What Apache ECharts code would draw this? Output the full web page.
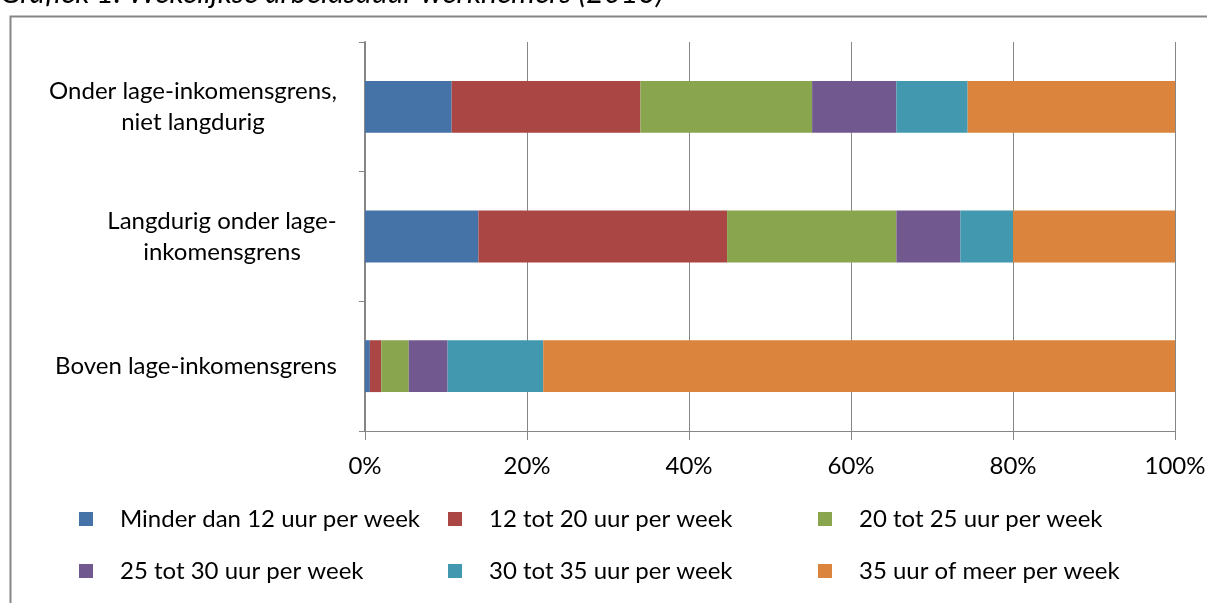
<!DOCTYPE html>
<html>
<head>
<meta charset="utf-8">
<script src="https://cdn.jsdelivr.net/npm/echarts@6/dist/echarts.min.js"></script>
<style>
html,body{margin:0;padding:0;background:#fff;}
#chart{width:1207px;height:603px;}
</style>
</head>
<body>
<div id="chart"></div>
<script>
const categories = ['Boven lage-inkomensgrens', 'Langdurig onder lage-inkomensgrens', 'Onder lage-inkomensgrens, niet langdurig'];
const seriesNames = ['Minder dan 12 uur per week', '12 tot 20 uur per week', '20 tot 25 uur per week', '25 tot 30 uur per week', '30 tot 35 uur per week', '35 uur of meer per week'];
const minder12 = [0.6, 14.0, 10.7];
const tot20 = [1.4, 30.7, 23.3];
const tot25 = [3.4, 20.9, 21.2];
const tot30 = [4.8, 7.9, 10.4];
const tot35 = [11.8, 6.5, 8.8];
const meer35 = [78.0, 20.0, 25.6];
const xTicks = [0, 20, 40, 60, 80, 100];
const titleText = 'Grafiek 1. Wekelijkse arbeidsduur werknemers (2013)';

const values = [minder12, tot20, tot25, tot30, tot35, meer35];
const colors = ['#4572A7', '#AA4643', '#89A54E', '#71588F', '#4198AF', '#DB843D'];
const font = 'Lato, "Open Sans", sans-serif';
const fs = 24;

const labelLines = {
  'Boven lage-inkomensgrens': ['Boven lage-inkomensgrens'],
  'Langdurig onder lage-inkomensgrens': ['Langdurig onder lage-', 'inkomensgrens'],
  'Onder lage-inkomensgrens, niet langdurig': ['Onder lage-inkomensgrens,', 'niet langdurig']
};

const ctx = document.createElement('canvas').getContext('2d');
ctx.font = fs + 'px ' + font;
const rich = {};
categories.forEach((c, i) => {
  const w = Math.max(...labelLines[c].map(l => ctx.measureText(l).width));
  rich['c' + i] = { fontSize: fs, fontFamily: font, color: '#000', lineHeight: 31, align: 'center', width: Math.ceil(w) + 2 };
});

const chart = echarts.init(document.getElementById('chart'));
chart.setOption({
  animation: false,
  backgroundColor: '#fff',
  textStyle: { fontFamily: font },
  graphic: [
    { type: 'rect', left: 8, top: 14, shape: { x: 0, y: 0, width: 1215, height: 610 },
      style: { fill: 'none', stroke: '#868686', lineWidth: 2 }, z: 0 },
    { type: 'text', left: 0, top: -22,
      style: { text: titleText, font: 'italic 30px ' + font, fill: '#000' } }
  ],
  grid: { left: 365, right: 32, top: 42, bottom: 172, containLabel: false, outerBoundsMode: 'none' },
  xAxis: {
    type: 'value', min: xTicks[0], max: xTicks[xTicks.length - 1], interval: 20,
    axisLine: { show: true, lineStyle: { color: '#868686', width: 1 } },
    axisTick: { show: true, length: 9, lineStyle: { color: '#868686' } },
    splitLine: { show: true, lineStyle: { color: '#868686', width: 1 } },
    axisLabel: { formatter: '{value}%', color: '#000', fontSize: fs, fontFamily: font, margin: 23 }
  },
  yAxis: {
    type: 'category', data: categories,
    axisLine: { show: true, lineStyle: { color: '#868686', width: 2 } },
    axisTick: { show: true, length: 6, lineStyle: { color: '#868686' } },
    axisLabel: {
      color: '#000', fontSize: fs, fontFamily: font, margin: 27, align: 'right',
      formatter: function (v, idx) {
        const lines = labelLines[v] || [v];
        return lines.map(l => '{c' + idx + '|' + l + '}').join('\n');
      },
      rich: rich
    }
  },
  legend: [0, 1, 2].map(col => ({
    orient: 'vertical',
    left: [74, 443, 813][col],
    top: 502,
    itemWidth: 14, itemHeight: 14, itemGap: 28,
    icon: 'rect',
    data: [seriesNames[col], seriesNames[col + 3]],
    textStyle: { color: '#000', fontSize: fs, fontFamily: font, padding: [0, 0, 0, 22] }
  })),
  series: seriesNames.map((name, i) => ({
    name: name, type: 'bar', stack: 'total', data: values[i],
    barWidth: '40%',
    itemStyle: { color: colors[i] },
    emphasis: { disabled: true }
  }))
});
</script>
</body>
</html>
